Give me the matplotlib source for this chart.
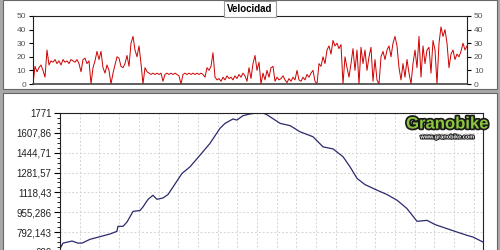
import matplotlib
matplotlib.use("Agg")
import matplotlib.pyplot as plt
import matplotlib.patheffects as pe
from matplotlib.patches import Rectangle
from matplotlib.ticker import AutoMinorLocator

# velocidad (km/h)
velocidad = [0, 13, 9, 12, 14, 10, 5, 25, 14, 17,
             16, 18, 15, 17, 14, 18, 16, 17, 15, 18,
             17, 16, 18, 15, 9, 18, 19, 15, 17, 0,
             12, 17, 24, 18, 24, 12, 8, 14, 10, 0,
             8, 14, 20, 19, 13, 12, 15, 21, 13, 30,
             35, 25, 20, 28, 15, 0, 12, 9, 8, 7,
             8, 7, 8, 7, 8, 2, 7, 8, 7, 8,
             7, 8, 7, 6, 0, 7, 8, 7, 8, 7,
             8, 7, 8, 7, 8, 7, 5, 12, 10, 13,
             23, 5, 3, 4, 2, 5, 3, 6, 4, 5,
             3, 6, 4, 7, 5, 8, 6, 2, 12, 4,
             15, 21, 10, 16, 0, 8, 3, 10, 5, 12,
             13, 2, 5, 3, 4, 6, 3, 1, 4, 2,
             5, 3, 10, 3, 2, 5, 3, 7, 5, 8,
             10, 2, 0, 15, 13, 20, 15, 25, 28, 22,
             32, 28, 30, 26, 29, 0, 20, 12, 5, 15,
             26, 10, 25, 0, 27, 15, 25, 10, 20, 27,
             2, 18, 3, 0, 20, 24, 18, 25, 28, 20,
             30, 35, 28, 12, 3, 15, 5, 18, 8, 0,
             15, 25, 12, 35, 5, 28, 15, 25, 27, 8,
             32, 25, 0, 30, 42, 35, 40, 30, 12, 22,
             25, 18, 22, 20, 24, 30, 25, 28]

# perfil: distancia (km) y altitud (m)
distancia = [0, 0.15, 0.61, 0.91, 1.12, 1.52, 2.03, 2.54, 2.89, 2.94,
             3.2, 3.4, 3.71, 4.06, 4.21, 4.47, 4.72, 4.92, 5.23, 5.48,
             5.74, 6.19, 6.6, 7.11, 7.61, 8.12, 8.38, 8.78, 8.98, 9.29,
             9.64, 10.0, 10.3, 10.5, 11.17, 11.68, 12.18, 12.84, 13.35, 13.86,
             14.37, 14.72, 15.08, 15.48, 16.09, 16.6, 17.11, 17.61, 18.12, 18.63,
             19.04, 19.64, 20.15, 20.66, 20.96, 21.47]
altitud = [656, 702, 719, 702, 702, 733, 755, 777, 799, 840,
           840, 875, 963, 970, 999, 1062, 1095, 1062, 1073, 1101,
           1164, 1274, 1329, 1425, 1521, 1645, 1686, 1722, 1713, 1749,
           1763, 1771, 1771, 1757, 1686, 1667, 1617, 1576, 1493, 1476,
           1411, 1329, 1233, 1183, 1137, 1101, 1054, 986, 881, 889,
           854, 821, 793, 766, 752, 711]

alt_ticks = [629, 792.143, 955.286, 1118.43, 1281.57, 1444.71, 1607.86, 1771]
alt_labels = ["629", "792,143", "955,286", "1118,43", "1281,57", "1444,71", "1607,86", "1771"]
vel_ticks = [0, 10, 20, 30, 40, 50]

plt.rcParams["font.family"] = ["Liberation Sans", "DejaVu Sans"]

fig = plt.figure(figsize=(5, 2.5), dpi=100, facecolor="#a8a8a8")
W, H = 500, 250
# panel backgrounds
fig.patches.append(Rectangle((3 / W, 1 - 89 / H), 494 / W, 89 / H, transform=fig.transFigure,
                             facecolor="white", edgecolor="#666666", lw=0.8, zorder=-10))
fig.patches.append(Rectangle((3 / W, -0.02), 494 / W, 1 - 93 / H + 0.02, transform=fig.transFigure,
                             facecolor="white", edgecolor="#666666", lw=0.8, zorder=-10))

# --- velocidad ---
ax1 = fig.add_axes([33 / W, 1 - 84 / H, 434 / W, 68 / H])
ax1.patch.set_alpha(0)
ax1.plot(range(len(velocidad)), velocidad, color="#cc0000", lw=0.7)
ax1.set_xlim(0, len(velocidad) - 1)
ax1.set_ylim(0, 50)
ax1.set_yticks(vel_ticks)
ax1.set_xticks([])
ax1.tick_params(axis="y", labelsize=6, labelcolor="#555555", length=3, width=0.8,
                left=True, right=True, labelright=True, pad=2)
for s in ["top", "left", "right"]:
    ax1.spines[s].set_color("#222222")
    ax1.spines[s].set_linewidth(0.8)
ax1.spines["bottom"].set_color("#444444")
ax1.spines["bottom"].set_linewidth(1.2)

fig.text(0.5, 1 - 9 / H, "Velocidad", ha="center", va="center", fontsize=7, fontweight="bold",
         bbox=dict(boxstyle="square,pad=0.35", facecolor="white", edgecolor="#999999", lw=0.8))

# --- altitud ---
ax2 = fig.add_axes([60 / W, 1 - 252 / H, 423 / W, 139 / H])
ax2.patch.set_alpha(0)
ax2.plot(distancia, altitud, color="#2a2a6e", lw=0.9)
ax2.set_xlim(0, 21.47)
ax2.set_ylim(629, 1771)
ax2.set_yticks(alt_ticks)
ax2.set_yticklabels(alt_labels)
ax2.set_xticks(range(1, 22))
ax2.yaxis.set_minor_locator(AutoMinorLocator(4))
ax2.tick_params(axis="x", length=0, labelbottom=False)
ax2.tick_params(axis="y", labelsize=7, labelcolor="#222222", length=4, width=0.8, pad=2)
ax2.tick_params(axis="y", which="minor", length=2, width=0.6)
ax2.grid(True, which="major", color="#d4d4d4", ls=(0, (2, 2)), lw=0.7)
for s in ax2.spines.values():
    s.set_color("#222222")
    s.set_linewidth(0.8)

# logo
logo = fig.text(447 / W, 1 - 124 / H, "Granobike", ha="center", va="center", fontsize=12,
                fontweight="bold", color="#8cc63f", family=["Liberation Sans Narrow", "Liberation Sans"])
logo.set_path_effects([pe.withStroke(linewidth=2.5, foreground="#1a1a1a")])
sub = fig.text(447 / W, 1 - 137 / H, "www.granobike.com", ha="center", va="center", fontsize=4,
               fontweight="bold", color="white")
sub.set_path_effects([pe.withStroke(linewidth=1.5, foreground="#1a1a1a")])

fig.savefig("out.png", dpi=100, facecolor=fig.get_facecolor())
